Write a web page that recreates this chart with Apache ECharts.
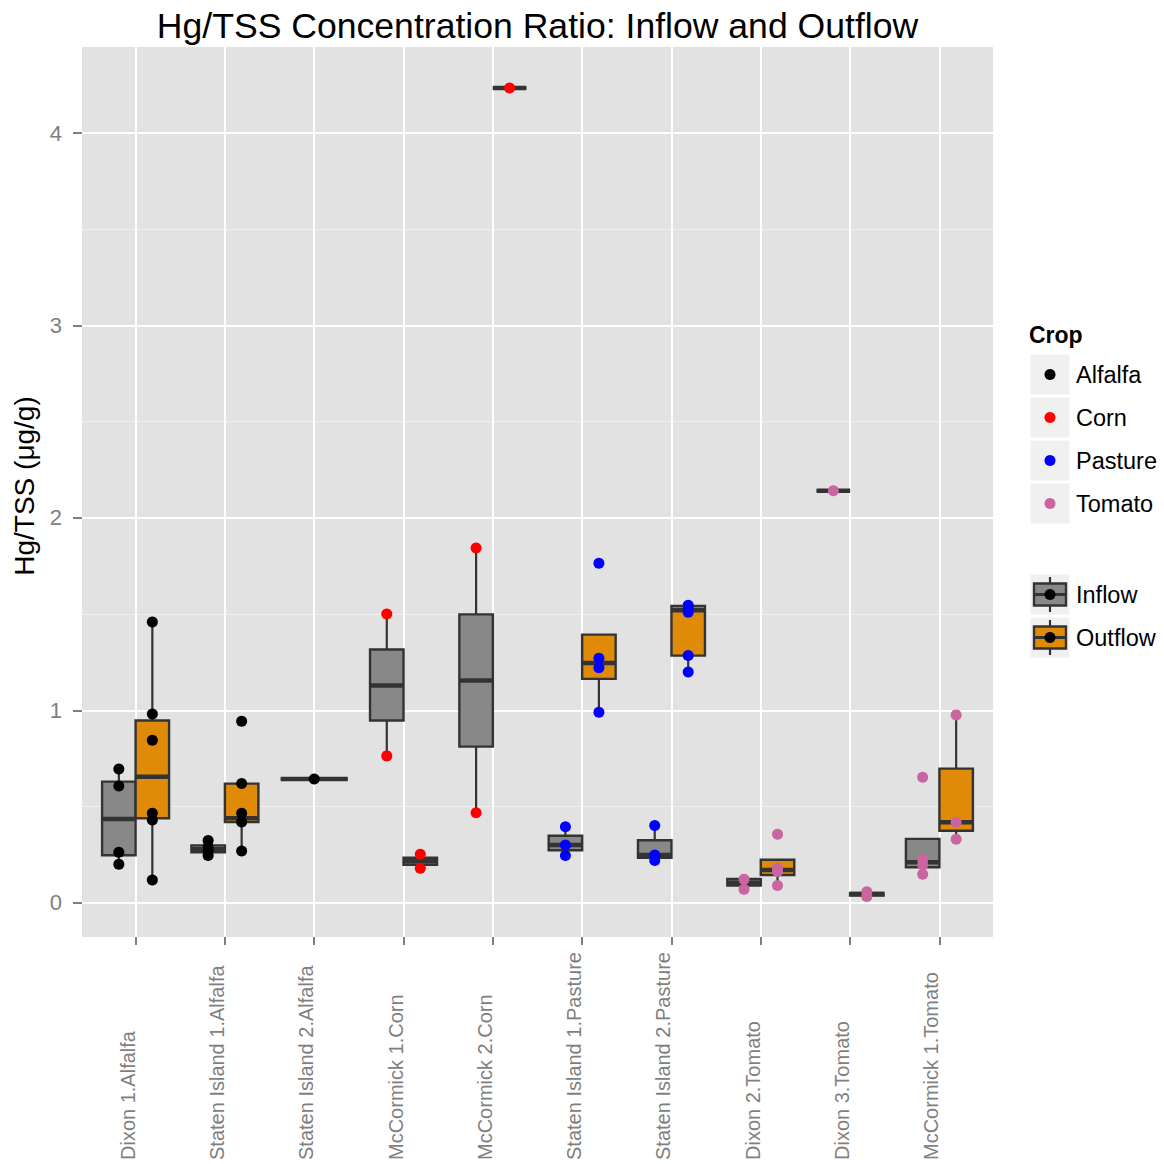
<!DOCTYPE html>
<html>
<head>
<meta charset="utf-8">
<title>Hg/TSS Concentration Ratio: Inflow and Outflow</title>
<script src="https://cdn.jsdelivr.net/npm/echarts@6/dist/echarts.min.js"></script>
<style>
  html, body { margin: 0; padding: 0; background: #ffffff; }
  #chart { width: 1164px; height: 1164px; }
</style>
</head>
<body>
<div id="chart"></div>
<script>
// ---- data -------------------------------------------------------------
const categories = [
  'Dixon 1.Alfalfa', 'Staten Island 1.Alfalfa', 'Staten Island 2.Alfalfa',
  'McCormick 1.Corn', 'McCormick 2.Corn', 'Staten Island 1.Pasture',
  'Staten Island 2.Pasture', 'Dixon 2.Tomato', 'Dixon 3.Tomato', 'McCormick 1.Tomato'
];
const crops = ['Alfalfa', 'Corn', 'Pasture', 'Tomato'];
const flows = ['Inflow', 'Outflow'];
const yTicks = [0, 1, 2, 3, 4];
const yMinorTicks = [0.5, 1.5, 2.5, 3.5];

// box statistics per site: [lower whisker, Q1, median, Q3, upper whisker]
const inflowBoxes = [
  [0.201, 0.248, 0.436, 0.630, 0.696],
  [0.246, 0.263, 0.279, 0.299, 0.324],
  [0.644, 0.644, 0.644, 0.644, 0.644],
  [0.764, 0.948, 1.130, 1.317, 1.501],
  [0.469, 0.812, 1.155, 1.499, 1.844],
  [0.246, 0.274, 0.301, 0.349, 0.396],
  [0.220, 0.235, 0.249, 0.326, 0.402],
  [0.071, 0.090, 0.105, 0.124, 0.124],
  [2.142, 2.142, 2.142, 2.142, 2.142],
  [0.149, 0.185, 0.212, 0.333, 0.226]
];
const outflowBoxes = [
  [0.119, 0.440, 0.656, 0.948, 1.460],
  [0.270, 0.420, 0.440, 0.620, 0.620],
  null,
  [0.180, 0.198, 0.216, 0.235, 0.253],
  [4.234, 4.234, 4.234, 4.234, 4.234],
  [0.991, 1.164, 1.246, 1.394, 1.271],
  [1.200, 1.285, 1.520, 1.543, 1.546],
  [0.090, 0.145, 0.171, 0.224, 0.180],
  [0.033, 0.039, 0.046, 0.052, 0.058],
  [0.331, 0.375, 0.419, 0.698, 0.977]
];

// individual samples per site
const inflowPoints = [
  [0.696, 0.608, 0.263, 0.201],
  [0.324, 0.290, 0.268, 0.246],
  [0.644],
  [1.501, 0.764],
  [1.844, 0.469],
  [0.396, 0.301, 0.246],
  [0.402, 0.249, 0.220],
  [0.123, 0.071],
  [2.142],
  [0.653, 0.226, 0.197, 0.149]
];
const outflowPoints = [
  [1.460, 0.982, 0.845, 0.466, 0.431, 0.119],
  [0.944, 0.620, 0.466, 0.420, 0.270],
  [],
  [0.253, 0.180],
  [4.234],
  [1.765, 1.271, 1.222, 0.991],
  [1.546, 1.530, 1.510, 1.285, 1.200],
  [0.357, 0.180, 0.163, 0.090],
  [0.058, 0.033],
  [0.977, 0.419, 0.331]
];

// ---- styling ------------------------------------------------------------
const FONT = '"Liberation Sans", Arial, Helvetica, sans-serif';
const cropColors = ['#000000', '#FF0000', '#0000FF', '#C9659F'];
const flowFills = ['#888888', '#DF8B07'];
const OUTLINE = '#333333';
const PANEL_BG = '#E2E2E2';
const TICK_GREY = '#7F7F7F';
const DODGE = 0.75;

const boxesByFlow = [inflowBoxes, outflowBoxes];
const pointsByFlow = [inflowPoints, outflowPoints];
const siteCrop = categories.map(c => c.split('.').pop());

// dodge: two boxes share the slot, a lone box takes the whole slot
function slotOf(cat, flow) {
  const both = inflowBoxes[cat] && outflowBoxes[cat];
  if (!both) return { center: cat, width: DODGE };
  return { center: cat + (flow === 0 ? -DODGE / 4 : DODGE / 4), width: DODGE / 2 };
}

const boxData = [];
boxesByFlow.forEach((boxes, flow) => {
  boxes.forEach((b, cat) => { if (b) boxData.push([cat, flow].concat(b)); });
});

function renderBox(params, api) {
  const cat = api.value(0), flow = api.value(1);
  const low = api.value(2), q1 = api.value(3), med = api.value(4), q3 = api.value(5), high = api.value(6);
  const s = slotOf(cat, flow);
  const xl = api.coord([s.center - s.width / 2, 0])[0];
  const xr = api.coord([s.center + s.width / 2, 0])[0];
  const xc = api.coord([s.center, 0])[0];
  const y = v => api.coord([0, v])[1];
  const line = { stroke: OUTLINE, lineWidth: 2.2 };
  return {
    type: 'group',
    children: [
      { type: 'line', shape: { x1: xc, y1: y(high), x2: xc, y2: y(q3) }, style: line },
      { type: 'line', shape: { x1: xc, y1: y(q1), x2: xc, y2: y(low) }, style: line },
      { type: 'rect', shape: { x: xl, y: y(q3), width: xr - xl, height: y(q1) - y(q3) },
        style: { fill: flowFills[flow], stroke: OUTLINE, lineWidth: 2.4 } },
      { type: 'line', shape: { x1: xl, y1: y(med), x2: xr, y2: y(med) },
        style: { stroke: OUTLINE, lineWidth: 4.5 } }
    ]
  };
}

const scatterSeries = crops.map((crop, ci) => {
  const data = [];
  categories.forEach((c, cat) => {
    if (siteCrop[cat] !== crop) return;
    pointsByFlow.forEach((pts, flow) => {
      pts[cat].forEach(v => data.push([slotOf(cat, flow).center, v]));
    });
  });
  return {
    type: 'scatter', name: crop, data: data, symbolSize: 11, z: 5,
    itemStyle: { color: cropColors[ci], opacity: 1 }, silent: true
  };
});

// ---- legend drawn as graphic elements ----------------------------------
const legend = [];
const LX = 1030, KW = 40, KH = 41, KSTEP = 43;
legend.push({ type: 'text', x: 1029, y: 335, silent: true,
  style: { text: 'Crop', font: 'bold 23px ' + FONT, fill: '#000', textAlign: 'left', align: 'left',
           textVerticalAlign: 'middle', verticalAlign: 'middle' } });
crops.forEach((crop, i) => {
  const y0 = 354 + i * KSTEP, cy = y0 + KH / 2;
  legend.push({ type: 'rect', shape: { x: LX, y: y0, width: KW, height: KH },
    style: { fill: '#F0F0F0', stroke: '#ffffff', lineWidth: 1 }, silent: true });
  legend.push({ type: 'circle', shape: { cx: LX + KW / 2, cy: cy, r: 5.5 },
    style: { fill: cropColors[i] }, silent: true });
  legend.push({ type: 'text', x: 1076, y: cy, silent: true,
    style: { text: crop, font: '23.5px ' + FONT, fill: '#000', textAlign: 'left', align: 'left',
             textVerticalAlign: 'middle', verticalAlign: 'middle' } });
});
flows.forEach((flow, i) => {
  const y0 = 574 + i * KSTEP, cy = y0 + KH / 2, cx = LX + KW / 2;
  legend.push({ type: 'rect', shape: { x: LX, y: y0, width: KW, height: KH },
    style: { fill: '#F0F0F0', stroke: '#ffffff', lineWidth: 1 }, silent: true });
  legend.push({ type: 'line', shape: { x1: cx, y1: y0 + 3, x2: cx, y2: y0 + KH - 3 },
    style: { stroke: OUTLINE, lineWidth: 2.2 }, silent: true });
  legend.push({ type: 'rect', shape: { x: LX + 4, y: cy - 11, width: KW - 8, height: 22 },
    style: { fill: flowFills[i], stroke: OUTLINE, lineWidth: 2.4 }, silent: true });
  legend.push({ type: 'line', shape: { x1: LX + 4, y1: cy, x2: LX + KW - 4, y2: cy },
    style: { stroke: OUTLINE, lineWidth: 3 }, silent: true });
  legend.push({ type: 'circle', shape: { cx: cx, cy: cy, r: 5.5 },
    style: { fill: '#000' }, silent: true });
  legend.push({ type: 'text', x: 1076, y: cy, silent: true,
    style: { text: flow, font: '23.5px ' + FONT, fill: '#000', textAlign: 'left', align: 'left',
             textVerticalAlign: 'middle', verticalAlign: 'middle' } });
});

// chart and axis titles
legend.push({ type: 'text', x: 537.5, y: 26, silent: true,
  style: { text: 'Hg/TSS Concentration Ratio: Inflow and Outflow', font: '35.6px ' + FONT, fill: '#000',
           textAlign: 'center', align: 'center', textVerticalAlign: 'middle', verticalAlign: 'middle' } });
legend.push({ type: 'text', x: 24, y: 486, rotation: Math.PI / 2, silent: true,
  style: { text: 'Hg/TSS (\u03BCg/g)', font: '28px ' + FONT, fill: '#000',
           textAlign: 'center', align: 'center', textVerticalAlign: 'middle', verticalAlign: 'middle' } });

// ---- chart --------------------------------------------------------------
const catIdx = categories.map((c, i) => i);
const chart = echarts.init(document.getElementById('chart'), null, { renderer: 'svg' });
chart.setOption({
  animation: false,
  backgroundColor: '#ffffff',
  grid: { left: 82, right: 171, top: 47, bottom: 227, show: true,
          backgroundColor: PANEL_BG, borderWidth: 0 },
  xAxis: {
    type: 'value', min: -0.6, max: categories.length - 1 + 0.6,
    axisLine: { show: false, onZero: false },
    axisTick: { show: true, customValues: catIdx, length: 8, lineStyle: { color: TICK_GREY, width: 2 } },
    axisLabel: {
      show: true, customValues: catIdx, rotate: 90, align: 'left', verticalAlign: 'bottom',
      lineHeight: 16, margin: 223, fontSize: 20, fontFamily: FONT, color: TICK_GREY,
      formatter: v => categories[Math.round(v)]
    },
    splitLine: { show: true, lineStyle: { color: '#ffffff', width: 2 } }
  },
  yAxis: [
    {
      type: 'value', min: -0.177, max: 4.447,
      axisLine: { show: false, onZero: false },
      axisTick: { show: true, customValues: yTicks, length: 9, lineStyle: { color: TICK_GREY, width: 2 } },
      axisLabel: { show: true, customValues: yTicks, margin: 20, fontSize: 22, fontFamily: FONT,
                   color: TICK_GREY, formatter: v => String(v) },
      splitLine: { show: true, lineStyle: { color: '#ffffff', width: 2 } }
    },
    {
      type: 'value', min: -0.177, max: 4.447, position: 'left',
      axisLine: { show: false, onZero: false },
      axisTick: { show: false, customValues: yMinorTicks },
      axisLabel: { show: false, customValues: yMinorTicks },
      splitLine: { show: true, lineStyle: { color: '#F0F0F0', width: 1 } }
    }
  ],
  graphic: legend,
  series: [
    {
      type: 'custom', name: 'Flow', renderItem: renderBox, data: boxData, z: 3,
      encode: { x: 0, y: [2, 3, 4, 5, 6] }, silent: true
    }
  ].concat(scatterSeries)
});
</script>
</body>
</html>
